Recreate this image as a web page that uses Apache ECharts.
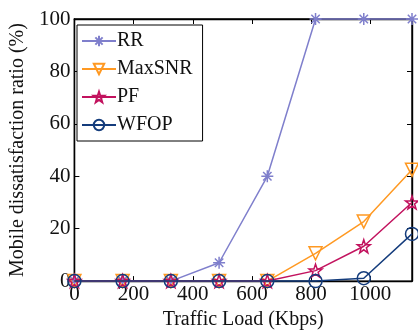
<!DOCTYPE html>
<html><head><meta charset="utf-8">
<script src="https://cdn.jsdelivr.net/npm/echarts@6/dist/echarts.min.js"></script>
<style>html,body{margin:0;padding:0;background:#fff}#c{width:418px;height:335px}</style>
</head><body><div id="c"></div>
<script>
const xLoad = [0, 163, 326, 489, 652, 815, 978, 1141];
const rr = [0, 0, 0, 7, 40, 100, 100, 100];
const maxSNR = [0, 0, 0, 0, 0, 10.6, 22.7, 42.5];
const pf = [0, 0, 0, 0, 0, 4, 13.3, 30];
const wfop = [0, 0, 0, 0, 0, 0, 1.1, 18];
const seriesNames = ['RR', 'MaxSNR', 'PF', 'WFOP'];
const xTicks = [0, 200, 400, 600, 800, 1000];
const yTicks = [0, 20, 40, 60, 80, 100];

const font = 'Liberation Serif';
const asterisk = 'path://M10,0L10,20M0,10L20,10M3,3L17,17M3,17L17,3';
const star = 'path://M10,0L12.35,6.9L19.5,6.9L13.8,11.2L15.9,18.1L10,14L4.1,18.1L6.2,11.2L0.5,6.9L7.65,6.9Z';
const pair = ys => ys.map((v, i) => [xLoad[i], v]);

const colors = ['#7f7fcc', '#ff9922', '#c2125e', '#143c7c'];
const syms = [asterisk, 'triangle', star, 'circle'];
const sizes = [12, 13, 13, 13];
const data = [rr, maxSNR, pf, wfop];

const chart = echarts.init(document.getElementById('c'));
const mkLine = () => ({show: true, onZero: false, lineStyle: {color: '#000', width: 1.4}});
const mkTick = () => ({show: true, inside: true, length: 5, lineStyle: {color: '#000', width: 1}});
const lines = seriesNames.map((n, i) => ({
  name: n, type: 'line', data: pair(data[i]),
  symbol: syms[i], symbolSize: sizes[i], symbolRotate: i === 1 ? 180 : 0,
  showAllSymbol: true, clip: false,
  lineStyle: {color: colors[i], width: 1.5},
  itemStyle: {color: 'rgba(255,255,255,0)', borderColor: colors[i], borderWidth: 1.5},
  z: 2 + i
}));
lines.push({type: 'line', xAxisIndex: 1, yAxisIndex: 1, data: pair(rr), silent: true,
  showSymbol: false, lineStyle: {opacity: 0}});
chart.setOption({
  animation: false,
  textStyle: {fontFamily: font},
  grid: {left: 69, right: 6, top: 19, bottom: 52, show: true, borderColor: '#000', borderWidth: 1.4},
  legend: {
    orient: 'vertical', left: 77, top: 25,
    data: seriesNames,
    backgroundColor: '#fff', borderColor: '#000', borderWidth: 1,
    padding: [6, 10, 6, 4], itemGap: 8, itemWidth: 34, itemHeight: 13,
    textStyle: {fontFamily: font, fontSize: 20, color: '#111', padding: [0, 0, 0, -4]}
  },
  xAxis: [{
    type: 'value', min: 0, max: 1141, interval: 200,
    axisLine: mkLine(), axisTick: mkTick(),
    splitLine: {show: false},
    axisLabel: {fontFamily: font, fontSize: 21, color: '#111', margin: 3, showMaxLabel: false,
      formatter: v => xTicks.includes(v) ? String(v) : ''},
    name: 'Traffic Load (Kbps)', nameLocation: 'middle', nameGap: 26,
    nameTextStyle: {fontFamily: font, fontSize: 20, color: '#111'}
  }, {
    type: 'value', position: 'top', min: 0, max: 1141, interval: 200,
    axisLine: mkLine(), axisTick: mkTick(),
    axisLabel: {show: false}, splitLine: {show: false}
  }],
  yAxis: [{
    type: 'value', min: 0, max: 100, interval: 20,
    axisLine: mkLine(), axisTick: mkTick(),
    splitLine: {show: false},
    axisLabel: {fontFamily: font, fontSize: 21, color: '#111', margin: 4,
      formatter: v => yTicks.includes(v) ? String(v) : ''},
    name: 'Mobile dissatisfaction ratio (%)', nameLocation: 'middle', nameGap: 44,
    nameTextStyle: {fontFamily: font, fontSize: 20, color: '#111'}
  }, {
    type: 'value', position: 'right', min: 0, max: 100, interval: 20,
    axisLine: mkLine(), axisTick: mkTick(),
    axisLabel: {show: false}, splitLine: {show: false}
  }],
  series: lines
});
</script></body></html>
